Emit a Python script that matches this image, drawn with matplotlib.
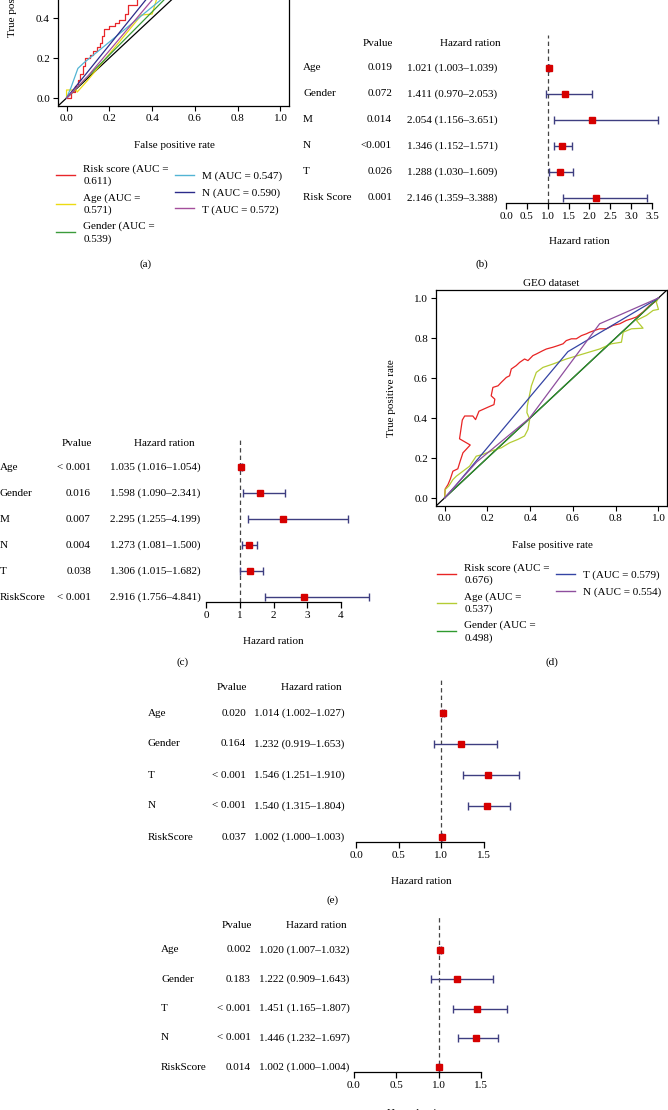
import numpy as np
import matplotlib
matplotlib.use('Agg')
import matplotlib.pyplot as plt
from matplotlib.lines import Line2D
from matplotlib.transforms import blended_transform_factory

plt.rcParams['font.family'] = ['Liberation Serif', 'DejaVu Serif']
plt.rcParams['font.size'] = 8

W, H = 668, 1110

# ---- ROC (a): TCGA, only lower part visible ----
a_risk_fpr = [0, 0.02, 0.02, 0.04, 0.04, 0.055, 0.055, 0.065, 0.065, 0.075, 0.075, 0.085, 0.085,
              0.11, 0.11, 0.125, 0.125, 0.14, 0.14, 0.155, 0.155, 0.165, 0.165, 0.175, 0.175,
              0.2, 0.2, 0.225, 0.225, 0.245, 0.245, 0.275, 0.275, 0.285, 0.285, 0.33, 0.33,
              0.37, 0.45, 0.55, 0.65, 0.75, 0.85, 0.95, 1.0]
a_risk_tpr = [0, 0.0, 0.03, 0.03, 0.06, 0.06, 0.09, 0.09, 0.12, 0.12, 0.16, 0.16, 0.2,
              0.2, 0.215, 0.215, 0.235, 0.235, 0.255, 0.255, 0.275, 0.275, 0.31, 0.31, 0.345,
              0.345, 0.36, 0.36, 0.375, 0.375, 0.39, 0.39, 0.42, 0.42, 0.465, 0.465, 0.5,
              0.55, 0.62, 0.7, 0.77, 0.84, 0.9, 0.96, 1.0]
a_age_fpr = [0, 0, 0.045, 0.05, 0.1, 0.35, 0.40, 0.42, 0.7, 1.0]
a_age_tpr = [0, 0.04, 0.04, 0.03, 0.09, 0.415, 0.42, 0.49, 0.85, 1.0]
a_gender_fpr = [0, 0.2, 0.455, 0.7, 1.0]
a_gender_tpr = [0, 0.215, 0.49, 0.78, 1.0]
a_m_fpr = [0, 0.02, 0.053, 0.08, 0.44, 1.0]
a_m_tpr = [0, 0.05, 0.148, 0.175, 0.49, 1.0]
a_n_fpr = [0, 0.37, 0.6, 1.0]
a_n_tpr = [0, 0.49, 0.78, 1.0]
a_t_fpr = [0, 0.1, 0.40, 0.65, 1.0]
a_t_tpr = [0, 0.11, 0.49, 0.8, 1.0]
a_labels = ['Risk score (AUC =\n0.611)', 'Age (AUC =\n0.571)', 'Gender (AUC =\n0.539)',
            'M (AUC = 0.547)', 'N (AUC = 0.590)', 'T (AUC = 0.572)']

# ---- ROC (d): GEO dataset ----
d_risk_fpr = [0, 0.003, 0.016, 0.027, 0.039, 0.062, 0.073, 0.086, 0.101, 0.12, 0.07, 0.083,
              0.094, 0.132, 0.145, 0.161, 0.207, 0.231, 0.235, 0.218, 0.226, 0.25, 0.265,
              0.289, 0.304, 0.312, 0.335, 0.351, 0.374, 0.39, 0.413, 0.429, 0.46, 0.476,
              0.507, 0.53, 0.554, 0.569, 0.593, 0.616, 0.64, 0.663, 0.679, 0.702, 0.725,
              0.757, 0.788, 0.819, 0.85, 0.874, 0.897, 0.928, 0.959, 0.983, 1.0]
d_risk_tpr = [0, 0.045, 0.067, 0.095, 0.134, 0.146, 0.184, 0.226, 0.243, 0.265, 0.296, 0.39,
              0.41, 0.41, 0.392, 0.434, 0.456, 0.467, 0.494, 0.511, 0.553, 0.561, 0.578,
              0.603, 0.611, 0.645, 0.662, 0.678, 0.695, 0.687, 0.712, 0.72, 0.737, 0.745,
              0.754, 0.762, 0.771, 0.787, 0.796, 0.796, 0.812, 0.821, 0.829, 0.838, 0.846,
              0.846, 0.863, 0.871, 0.888, 0.896, 0.905, 0.93, 0.963, 0.98, 1.0]
d_age_fpr = [0, 0.003, 0.02, 0.039, 0.055, 0.086, 0.117, 0.148, 0.179, 0.218, 0.265, 0.304,
             0.343, 0.374, 0.39, 0.398, 0.385, 0.387, 0.406, 0.429, 0.46, 0.507, 0.569,
             0.647, 0.725, 0.78, 0.827, 0.835, 0.874, 0.928, 0.897, 0.944, 0.975, 1.0, 0.99, 1.0]
d_age_tpr = [0, 0.042, 0.06, 0.092, 0.109, 0.134, 0.159, 0.209, 0.218, 0.235, 0.251, 0.276,
             0.293, 0.31, 0.343, 0.394, 0.427, 0.461, 0.561, 0.628, 0.653, 0.67, 0.695,
             0.72, 0.745, 0.771, 0.779, 0.829, 0.846, 0.849, 0.888, 0.913, 0.938, 0.943, 0.98, 1.0]
d_gender_fpr = [0, 1.0]
d_gender_tpr = [0, 1.0]
d_t_fpr = [0, 0.05, 0.577, 1.0]
d_t_tpr = [0, 0.06, 0.732, 1.0]
d_n_fpr = [0, 0.15, 0.398, 0.725, 1.0]
d_n_tpr = [0, 0.18, 0.40, 0.871, 1.0]
d_labels = ['Risk score (AUC =\n0.676)', 'Age (AUC =\n0.537)', 'Gender (AUC =\n0.498)',
            'T (AUC = 0.579)', 'N (AUC = 0.554)']

# ---- Forest plots ----
b_vars = ['Age', 'Gender', 'M', 'N', 'T', 'Risk Score']
b_pval = ['0.019', '0.072', '0.014', '<0.001', '0.026', '0.001']
b_hr = [1.021, 1.411, 2.054, 1.346, 1.288, 2.146]
b_lo = [1.003, 0.970, 1.156, 1.152, 1.030, 1.359]
b_hi = [1.039, 2.053, 3.651, 1.571, 1.609, 3.388]
b_ticks = [0, 0.5, 1, 1.5, 2, 2.5, 3, 3.5]
b_ticklabels = ['0.0', '0.5', '1.0', '1.5', '2.0', '2.5', '3.0', '3.5']

c_vars = ['Age', 'Gender', 'M', 'N', 'T', 'RiskScore']
c_pval = ['< 0.001', '0.016', '0.007', '0.004', '0.038', '< 0.001']
c_hr = [1.035, 1.598, 2.295, 1.273, 1.306, 2.916]
c_lo = [1.016, 1.090, 1.255, 1.081, 1.015, 1.756]
c_hi = [1.054, 2.341, 4.199, 1.500, 1.682, 4.841]
c_ticks = [0, 1, 2, 3, 4]
c_ticklabels = ['0', '1', '2', '3', '4']

e_vars = ['Age', 'Gender', 'T', 'N', 'RiskScore']
e_pval = ['0.020', '0.164', '< 0.001', '< 0.001', '0.037']
e_hr = [1.014, 1.232, 1.546, 1.540, 1.002]
e_lo = [1.002, 0.919, 1.251, 1.315, 1.000]
e_hi = [1.027, 1.653, 1.910, 1.804, 1.003]

f_vars = ['Age', 'Gender', 'T', 'N', 'RiskScore']
f_pval = ['0.002', '0.183', '< 0.001', '< 0.001', '0.014']
f_hr = [1.020, 1.222, 1.451, 1.446, 1.002]
f_lo = [1.007, 0.909, 1.165, 1.232, 1.000]
f_hi = [1.032, 1.643, 1.807, 1.697, 1.004]
ef_ticks = [0, 0.5, 1, 1.5]
ef_ticklabels = ['0.0', '0.5', '1.0', '1.5']

RED = '#d60000'
NAVY = '#3e3e80'


def px_axes(fig, x0, y0, x1, y1):
    return fig.add_axes([x0 / W, 1 - y1 / H, (x1 - x0) / W, (y1 - y0) / H])


fig = plt.figure(figsize=(W / 100, H / 100), dpi=100)
ov = fig.add_axes([0, 0, 1, 1])
ov.set_xlim(0, W)
ov.set_ylim(H, 0)
ov.axis('off')


def roc_panel(ax, curves, colors, labels, leg_xy):
    ax.patch.set_alpha(0)
    ax.set_xlim(-0.04, 1.04)
    ax.set_ylim(-0.04, 1.04)
    ax.axline((0, 0), slope=1, color='black', lw=0.9)
    handles = []
    for (fx, ty), col in zip(curves, colors):
        ax.plot(fx, ty, color=col, lw=0.9)
        handles.append(Line2D([], [], color=col, lw=1.0))
    ticks = np.arange(0, 1.01, 0.2)
    ax.set_xticks(ticks)
    ax.set_yticks(ticks)
    ax.set_xticklabels(['%.1f' % t for t in ticks])
    ax.set_yticklabels(['%.1f' % t for t in ticks])
    ax.tick_params(length=3.8, width=0.8, labelsize=8, pad=2)
    for s in ax.spines.values():
        s.set_linewidth(0.9)
    leg = fig.legend(handles, labels, ncol=2, loc='upper left',
                     bbox_to_anchor=(leg_xy[0] / W, 1 - leg_xy[1] / H),
                     frameon=False, fontsize=8, handlelength=1.75, handletextpad=0.7,
                     columnspacing=0.55, labelspacing=0.62, borderpad=0, borderaxespad=0)
    for t in leg.get_texts():
        t.set_linespacing(1.38)


def forest_panel(box, row0, pitch, vars_, pvals, hr, lo, hi, ticks, ticklabels,
                 zero_px, unit_px, label_x, pv_x, hr_x, head_pv, head_hr, head_y, xlab):
    x0, y_top, x1, y_axis = box
    ax = px_axes(fig, x0, y_top, x1, y_axis)
    ax.patch.set_alpha(0)
    ax.set_xlim((x0 - zero_px) / unit_px, (x1 - zero_px) / unit_px)
    ax.set_ylim((y_axis - row0) / pitch, (y_top - row0) / pitch)
    hr = np.array(hr)
    lo = np.array(lo)
    hi = np.array(hi)
    y = np.arange(len(vars_))
    ax.axvline(1, color='#444444', lw=0.9, ls=(0, (3.5, 2.5)))
    ax.errorbar(hr, y, xerr=[hr - lo, hi - hr], fmt='none', ecolor=NAVY,
                elinewidth=1.0, capsize=2.6, capthick=1.0)
    ax.plot(hr, y, 's', color=RED, ms=4.6, mec=RED)
    for s in ['left', 'right', 'top']:
        ax.spines[s].set_visible(False)
    ax.spines['bottom'].set_bounds(ticks[0], ticks[-1])
    ax.spines['bottom'].set_linewidth(0.9)
    ax.set_yticks([])
    ax.set_xticks(ticks)
    ax.set_xticklabels(ticklabels)
    ax.tick_params(axis='x', length=4.5, width=0.9, labelsize=8, pad=2)
    tr = blended_transform_factory(ov.transData, ax.transData)
    hy = (head_y - row0) / pitch
    ax.text(head_pv, hy, 'Pvalue', transform=tr, ha='center', va='center', fontsize=8)
    ax.text(head_hr, hy, 'Hazard ration', transform=tr, ha='center', va='center', fontsize=8)
    for i, v in enumerate(vars_):
        ax.text(label_x, i, v, transform=tr, ha='left', va='center', fontsize=8)
        ax.text(pv_x, i, pvals[i], transform=tr, ha='right', va='center', fontsize=8)
        ax.text(hr_x, i, '%.3f (%.3f\u2013%.3f)' % (hr[i], lo[i], hi[i]),
                transform=tr, ha='left', va='center', fontsize=8)
    ov.text(xlab[0], xlab[1], 'Hazard ration', ha='center', va='center', fontsize=8)
    return ax


# (a)
ax_a = px_axes(fig, 58, -110, 289, 106)
roc_panel(ax_a,
          [(a_risk_fpr, a_risk_tpr), (a_age_fpr, a_age_tpr), (a_gender_fpr, a_gender_tpr),
           (a_m_fpr, a_m_tpr), (a_n_fpr, a_n_tpr), (a_t_fpr, a_t_tpr)],
          ['#e8262a', '#ecdb12', '#3b9b3b', '#52b4d4', '#2b2b8a', '#a44f9c'],
          a_labels, (56, 164))
ov.text(174, 145, 'False positive rate', ha='center', va='center', fontsize=8)
ov.text(13, -2, 'True positive rate', rotation=90, ha='center', va='center', fontsize=8)
ov.text(146, 264, '(a)', ha='center', va='center', fontsize=8)

# (b)
forest_panel((496, 35, 662, 203), 68, 26, b_vars, b_pval, b_hr, b_lo, b_hi,
             b_ticks, b_ticklabels, 506, 41.71, 303, 392, 407, 378, 470, 44, (579, 242))
ov.text(482, 264, '(b)', ha='center', va='center', fontsize=8)

# (c)
forest_panel((196, 437, 375, 602), 467, 26, c_vars, c_pval, c_hr, c_lo, c_hi,
             c_ticks, c_ticklabels, 206, 33.75, 0, 91, 110, 77, 164, 444, (273, 642))
ov.text(183, 662, '(c)', ha='center', va='center', fontsize=8)

# (d)
ax_d = px_axes(fig, 436, 290, 667, 506)
roc_panel(ax_d,
          [(d_risk_fpr, d_risk_tpr), (d_age_fpr, d_age_tpr), (d_gender_fpr, d_gender_tpr),
           (d_t_fpr, d_t_tpr), (d_n_fpr, d_n_tpr)],
          ['#e82424', '#b4cc34', '#2f9a2f', '#3444a4', '#8e4e9e'],
          d_labels, (437, 563))
ax_d.set_title('GEO dataset', fontsize=8, pad=3)
ov.text(552, 545, 'False positive rate', ha='center', va='center', fontsize=8)
ov.text(391, 398, 'True positive rate', rotation=90, ha='center', va='center', fontsize=8)
ov.text(552, 662, '(d)', ha='center', va='center', fontsize=8)

# (e)
forest_panel((346, 677, 525, 842), 713, 31, e_vars, e_pval, e_hr, e_lo, e_hi,
             ef_ticks, ef_ticklabels, 356, 85.33, 148, 246, 254, 232, 311, 687, (421, 881))
ov.text(333, 900, '(e)', ha='center', va='center', fontsize=8)

# (f)
forest_panel((344, 917, 525, 1072), 950, 29.25, f_vars, f_pval, f_hr, f_lo, f_hi,
             ef_ticks, ef_ticklabels, 354, 84.67, 161, 251, 259, 237, 316, 926, (417, 1113))

fig.savefig('out.png', dpi=100)
